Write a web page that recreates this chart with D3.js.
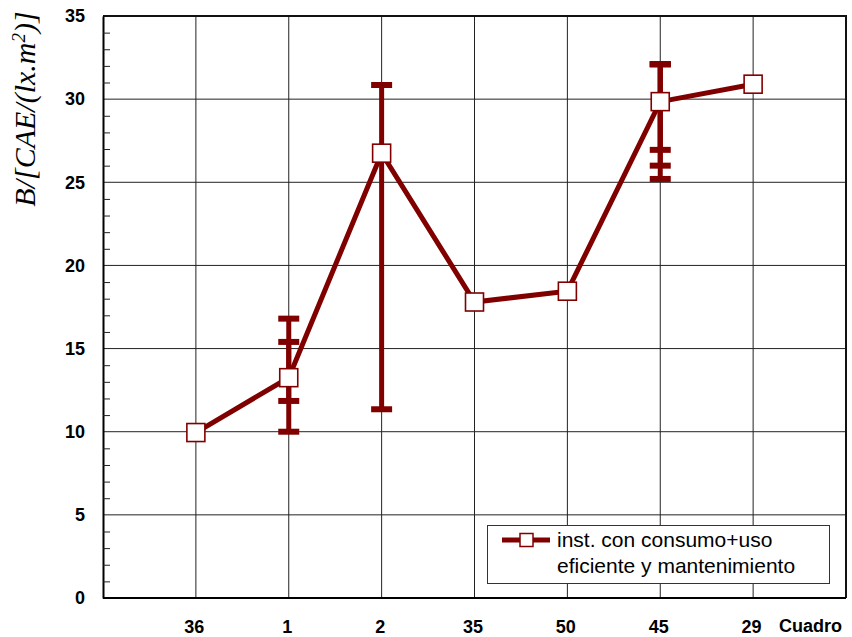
<!DOCTYPE html>
<html>
<head>
<meta charset="utf-8">
<script src="https://cdn.jsdelivr.net/npm/d3@7"></script>
<style>
  html, body { margin: 0; padding: 0; background: #fff; }
  svg { display: block; }
</style>
</head>
<body>
<svg id="chart" width="852" height="637"></svg>
<script>
// Categories (cuadros) along the x axis
const categories = ["36", "1", "2", "35", "50", "45", "29"];
// Mean value per cuadro
const values = [9.95, 13.25, 26.75, 17.8, 18.45, 29.85, 30.9];
// Error ranges: each entry belongs to one cuadro (several may share a cuadro)
const errCategory = ["1", "1", "2", "45", "45", "45"];
const errLow = [10.0, 11.85, 11.35, 25.2, 26.0, 26.95];
const errHigh = [16.8, 15.4, 30.85, 32.1, 32.1, 32.1];
// Y axis ticks
const yMajorTicks = [0, 5, 10, 15, 20, 25, 30, 35];
const yMinorTicks = d3.range(0, 36).filter(v => v % 5 !== 0);
const legendLines = ["inst. con consumo+uso", "eficiente y mantenimiento"];

const RED = "#800000";
const svg = d3.select("#chart");
const L = 103, R = 846, T = 16, B = 598;

const x = d3.scalePoint().domain(categories).range([L, R]).padding(1);
const y = d3.scaleLinear().domain([0, 35]).range([B, T]);

// Grid
const grid = svg.append("g").attr("stroke", "#222").attr("stroke-width", 1);
grid.selectAll("line.h").data(yMajorTicks.filter(v => v > 0 && v < 35)).join("line")
  .attr("x1", L).attr("x2", R).attr("y1", d => y(d)).attr("y2", d => y(d));
grid.selectAll("line.v").data(categories).join("line")
  .attr("x1", d => x(d)).attr("x2", d => x(d)).attr("y1", T).attr("y2", B);

// Frame: top and right edges
svg.append("path")
  .attr("d", `M${L},${T}H${R}V${B}`)
  .attr("fill", "none").attr("stroke", "#111").attr("stroke-width", 2);

// Y axis with major labels and inward minor ticks
const yAxis = svg.append("g").attr("transform", `translate(${L},0)`)
  .call(d3.axisLeft(y).tickValues(yMajorTicks).tickSize(0).tickPadding(18).tickFormat(d3.format("d")));
yAxis.select(".domain").attr("stroke", "#000").attr("stroke-width", 2);
yAxis.selectAll("text")
  .attr("font-family", "'Liberation Sans', Arial, sans-serif")
  .attr("font-weight", "bold").attr("font-size", 18).attr("fill", "#000");

svg.append("g").attr("transform", `translate(${L},0)`)
  .call(d3.axisLeft(y).tickValues(yMinorTicks).tickSize(-7).tickFormat(""))
  .call(g => g.select(".domain").remove())
  .selectAll("line").attr("stroke", "#222");

// X axis
const xAxis = svg.append("g").attr("transform", `translate(0,${B})`)
  .call(d3.axisBottom(x).tickSize(0).tickPadding(22));
xAxis.select(".domain").attr("stroke", "#000").attr("stroke-width", 2).attr("d", `M${L},0H${R}`);
xAxis.selectAll("text")
  .attr("font-family", "'Liberation Sans', Arial, sans-serif")
  .attr("font-weight", "bold").attr("font-size", 18).attr("fill", "#000")
  .attr("dx", -2);

svg.append("text")
  .attr("x", 842).attr("y", 632).attr("text-anchor", "end")
  .attr("font-family", "'Liberation Sans', Arial, sans-serif")
  .attr("font-weight", "bold").attr("font-size", 18)
  .text("Cuadro");

// Y axis title
const yTitle = svg.append("text")
  .attr("transform", "translate(35,109) rotate(-90)")
  .attr("text-anchor", "middle")
  .attr("font-family", "'Liberation Serif', 'Times New Roman', serif")
  .attr("font-style", "italic").attr("font-size", 30);
yTitle.append("tspan").text("B/[CAE/(lx.m");
yTitle.append("tspan").attr("baseline-shift", "super").attr("font-size", 19).text("2");
yTitle.append("tspan").text(")]");

// Connecting line
const line = d3.line().x((d, i) => x(categories[i])).y(d => y(d));
svg.append("path").datum(values)
  .attr("d", line).attr("fill", "none")
  .attr("stroke", RED).attr("stroke-width", 5).attr("stroke-linejoin", "miter");

// Error bars
const errs = errCategory.map((c, i) => ({ c, lo: errLow[i], hi: errHigh[i] }));
const eb = svg.append("g").attr("stroke", RED);
eb.selectAll("line.stem").data(errs).join("line")
  .attr("x1", d => x(d.c)).attr("x2", d => x(d.c))
  .attr("y1", d => y(d.lo)).attr("y2", d => y(d.hi))
  .attr("stroke-width", 5);
const caps = errs.flatMap(d => [{ c: d.c, v: d.lo }, { c: d.c, v: d.hi }]);
eb.selectAll("line.cap").data(caps).join("line")
  .attr("x1", d => x(d.c) - 10.5).attr("x2", d => x(d.c) + 10.5)
  .attr("y1", d => y(d.v)).attr("y2", d => y(d.v))
  .attr("stroke-width", 6);

// Markers
svg.selectAll("rect.marker").data(values).join("rect")
  .attr("x", (d, i) => x(categories[i]) - 9).attr("y", d => y(d) - 9)
  .attr("width", 18).attr("height", 18)
  .attr("fill", "#fff").attr("stroke", RED).attr("stroke-width", 1.6);

// Legend
const lg = svg.append("g");
lg.append("rect").attr("x", 487.5).attr("y", 525.5).attr("width", 342).attr("height", 58)
  .attr("fill", "#fff").attr("stroke", "#333").attr("stroke-width", 1);
lg.append("line").attr("x1", 502).attr("x2", 550).attr("y1", 540).attr("y2", 540)
  .attr("stroke", RED).attr("stroke-width", 5);
lg.append("rect").attr("x", 520).attr("y", 533.5).attr("width", 13).attr("height", 13)
  .attr("fill", "#fff").attr("stroke", RED).attr("stroke-width", 1.5);
lg.selectAll("text").data(legendLines).join("text")
  .attr("x", 557).attr("y", (d, i) => 547 + i * 26)
  .attr("font-family", "'Liberation Sans', Arial, sans-serif")
  .attr("font-size", 21).attr("fill", "#000")
  .text(d => d);
</script>
</body>
</html>
